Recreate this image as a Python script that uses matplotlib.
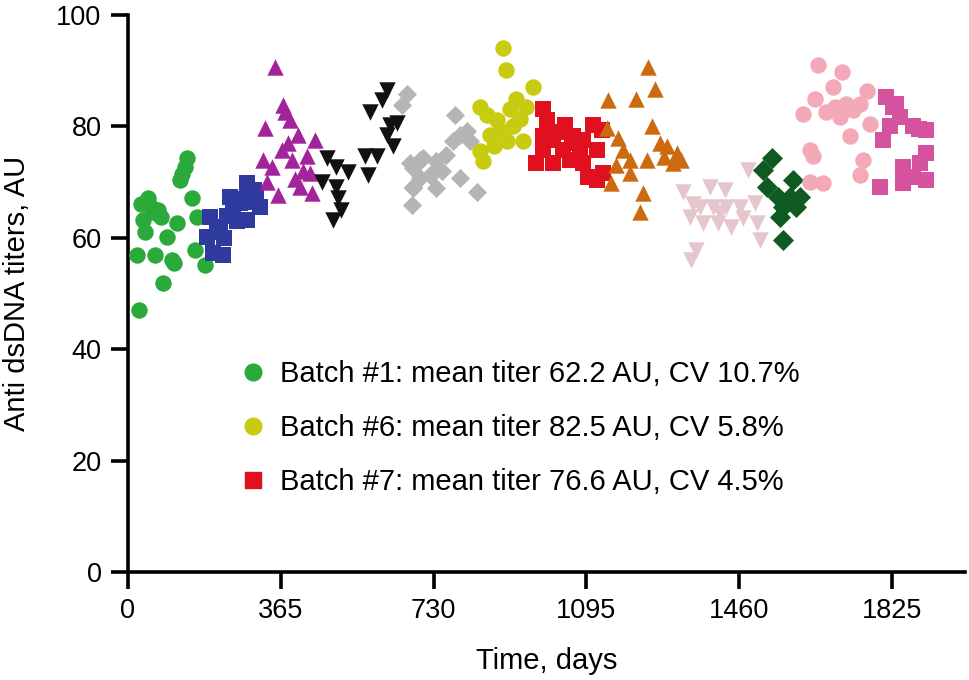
import matplotlib
matplotlib.use("Agg")
import matplotlib.pyplot as plt
from matplotlib.lines import Line2D

plt.rcParams['font.family'] = ['Liberation Sans', 'DejaVu Sans']

# ---- data (days, titer AU) ----
b1_x = [21, 27, 37, 41, 48, 56, 64, 72, 80, 84, 92, 104, 110, 116, 124, 130, 136, 140, 152, 160, 164, 184, 30, 68]
b1_y = [56.9, 47.0, 63.2, 61.1, 67.1, 65.5, 56.9, 65.0, 63.8, 51.8, 60.2, 56.0, 55.5, 62.6, 70.4, 71.5, 72.8, 74.3, 67.1, 57.8, 63.8, 55.1, 66.0, 64.5]

b2_x = [188, 196, 203, 212, 220, 227, 236, 244, 251, 260, 268, 276, 284, 290, 300, 307, 315, 284, 230]
b2_y = [60.2, 63.8, 57.2, 61.0, 62.0, 56.9, 64.0, 67.4, 65.0, 63.0, 66.2, 67.0, 69.8, 66.5, 68.5, 68.0, 65.6, 63.2, 60.0]

b3_x = [323, 327, 343, 351, 359, 367, 371, 375, 387, 391, 399, 407, 411, 419, 427, 435, 439, 447, 333, 383]
b3_y = [74.0, 79.7, 72.8, 90.7, 67.7, 75.8, 83.8, 82.6, 81.1, 74.0, 70.5, 78.5, 69.2, 72.0, 74.6, 71.6, 68.0, 77.6, 70.0, 77.0]

b4_x = [463, 475, 490, 498, 498, 502, 510, 526, 566, 574, 578, 594, 606, 618, 618, 626, 634, 642]
b4_y = [70.1, 74.3, 63.2, 72.8, 69.2, 67.1, 65.0, 71.9, 74.6, 71.3, 82.6, 74.6, 84.7, 86.5, 78.5, 80.2, 76.4, 80.6]

b5_x = [654, 666, 674, 678, 682, 682, 682, 698, 698, 705, 721, 725, 737, 737, 761, 777, 781, 793, 793, 809, 817, 833, 750]
b5_y = [83.8, 85.9, 73.4, 65.9, 72.5, 68.9, 69.2, 74.0, 70.7, 74.3, 71.3, 71.3, 73.7, 68.9, 74.9, 77.3, 82.0, 78.5, 70.7, 79.1, 77.3, 68.3, 72.0]

b6_x = [841, 841, 849, 857, 865, 881, 889, 897, 903, 905, 912, 928, 936, 944, 952, 968, 875, 920]
b6_y = [83.5, 75.5, 73.7, 82.0, 78.5, 81.1, 79.1, 94.0, 90.1, 77.3, 83.2, 85.0, 81.4, 77.3, 83.5, 87.1, 76.5, 80.0]

b7_x = [976, 992, 992, 992, 1000, 1016, 1016, 1040, 1044, 1056, 1064, 1080, 1088, 1088, 1112, 1120, 1120, 1132, 1135, 1100, 1030, 1060]
b7_y = [73.4, 83.2, 78.2, 75.8, 81.1, 77.6, 73.4, 75.8, 80.2, 74.0, 78.2, 75.2, 77.6, 73.4, 80.2, 75.8, 70.4, 79.4, 71.6, 71.0, 79.0, 77.0]

b8_x = [1144, 1148, 1155, 1171, 1183, 1199, 1199, 1215, 1223, 1231, 1239, 1243, 1251, 1259, 1271, 1287, 1303, 1311, 1322, 1165, 1280]
b8_y = [79.7, 84.7, 69.8, 77.9, 75.8, 74.0, 71.6, 84.9, 64.7, 68.0, 74.0, 90.7, 80.0, 86.8, 77.0, 76.4, 73.4, 75.2, 74.0, 73.0, 74.5]

b9_x = [1327, 1343, 1346, 1358, 1366, 1374, 1390, 1398, 1410, 1426, 1430, 1442, 1462, 1470, 1482, 1498, 1502, 1510, 1350, 1415]
b9_y = [68.3, 63.8, 56.0, 57.8, 65.6, 62.6, 69.2, 65.6, 62.6, 68.6, 65.6, 62.0, 65.6, 63.5, 72.2, 66.2, 62.6, 59.6, 66.0, 64.5]

b10_x = [1518, 1526, 1538, 1554, 1557, 1565, 1565, 1581, 1589, 1597, 1605]
b10_y = [72.2, 69.2, 74.3, 67.4, 63.8, 65.6, 59.6, 67.4, 70.4, 65.6, 67.4]

b11_x = [1613, 1629, 1637, 1641, 1649, 1661, 1669, 1685, 1701, 1705, 1725, 1733, 1749, 1749, 1757, 1765, 1773, 1629, 1690, 1715]
b11_y = [82.3, 70.1, 74.6, 85.0, 91.0, 69.8, 82.6, 87.1, 81.7, 89.8, 78.2, 82.9, 84.1, 71.3, 74.0, 86.3, 80.5, 75.8, 83.5, 84.0]

b12_x = [1796, 1804, 1812, 1820, 1828, 1844, 1852, 1852, 1876, 1876, 1892, 1908, 1908, 1908, 1836, 1890]
b12_y = [69.2, 77.6, 85.3, 80.0, 83.5, 81.7, 72.8, 69.8, 80.0, 71.0, 73.4, 79.4, 75.2, 70.4, 84.0, 79.5]

legend_labels = ["Batch #1: mean titer 62.2 AU, CV 10.7%",
                 "Batch #6: mean titer 82.5 AU, CV 5.8%",
                 "Batch #7: mean titer 76.6 AU, CV 4.5%"]

x_ticks = [0, 365, 730, 1095, 1460, 1825]
y_ticks = [0, 20, 40, 60, 80, 100]

series = [
    (b1_x, b1_y, 'o', '#2aaa3a', 140),
    (b2_x, b2_y, 's', '#2e3a9e', 130),
    (b3_x, b3_y, '^', '#a3239a', 140),
    (b4_x, b4_y, 'v', '#111111', 140),
    (b5_x, b5_y, 'D', '#b5b5b5', 95),
    (b6_x, b6_y, 'o', '#c8cc10', 140),
    (b7_x, b7_y, 's', '#e0101e', 130),
    (b8_x, b8_y, '^', '#cc6a10', 140),
    (b9_x, b9_y, 'v', '#e6c6cd', 140),
    (b10_x, b10_y, 'D', '#0f5a22', 115),
    (b11_x, b11_y, 'o', '#f4a9b9', 140),
    (b12_x, b12_y, 's', '#d4529e', 130),
]

fig = plt.figure(figsize=(9.69, 6.8), dpi=100)
ax = fig.add_axes([128/969, 108/680, (965-128)/969, (572-15)/680])

for xs, ys, m, c, s in series:
    ax.scatter(xs, ys, marker=m, color=c, s=s, linewidths=0, zorder=3)

ax.set_xlim(0, 2000)
ax.set_ylim(0, 100)
ax.set_xticks(x_ticks)
ax.set_yticks(y_ticks)
for side in ['top', 'right']:
    ax.spines[side].set_visible(False)
for side in ['left', 'bottom']:
    ax.spines[side].set_linewidth(2.6)
ax.tick_params(axis='both', length=12, width=2.6, labelsize=19.5, pad=7, direction='out')
ax.set_xlabel("Time, days", fontsize=21, labelpad=16)
ax.set_ylabel("Anti dsDNA titers, AU", fontsize=21, labelpad=18)

handles = [Line2D([], [], marker='o', color='#2aaa3a', linestyle='', markersize=12),
           Line2D([], [], marker='o', color='#c8cc10', linestyle='', markersize=12),
           Line2D([], [], marker='s', color='#e0101e', linestyle='', markersize=12)]
ax.legend(handles, legend_labels, loc='upper left', bbox_to_anchor=(238/969, 1 - 360/680),
          bbox_transform=fig.transFigure, frameon=False, fontsize=21,
          labelspacing=0.9, handletextpad=0.45, handlelength=1.0, borderpad=0, borderaxespad=0)

fig.savefig("out.png", dpi=100)
